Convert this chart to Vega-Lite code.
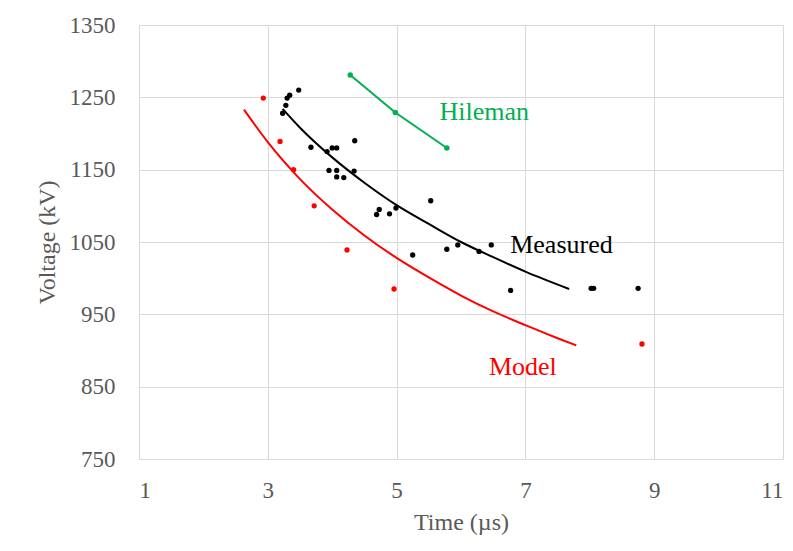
{
  "$schema": "https://vega.github.io/schema/vega-lite/v6.json",
  "width": 644,
  "height": 434,
  "autosize": {"type": "none"},
  "padding": {"left": 139, "top": 25, "right": 10, "bottom": 92},
  "background": "white",
  "config": {
    "view": {"stroke": null},
    "font": "Liberation Serif",
    "axis": {
      "labelFont": "Liberation Serif",
      "titleFont": "Liberation Serif",
      "labelColor": "#595959",
      "titleColor": "#595959",
      "labelFontSize": 23,
      "titleFontSize": 24,
      "titleFontWeight": "normal",
      "gridColor": "#d9d9d9",
      "domainColor": "#d9d9d9",
      "ticks": false
    }
  },
  "datasets": {
    "pts": [
      {"series": "Measured", "t": 3.23, "v": 1228},
      {"series": "Measured", "t": 3.28, "v": 1239},
      {"series": "Measured", "t": 3.30, "v": 1249},
      {"series": "Measured", "t": 3.34, "v": 1253},
      {"series": "Measured", "t": 3.48, "v": 1260},
      {"series": "Measured", "t": 3.67, "v": 1181},
      {"series": "Measured", "t": 3.92, "v": 1175},
      {"series": "Measured", "t": 4.00, "v": 1180},
      {"series": "Measured", "t": 4.07, "v": 1180},
      {"series": "Measured", "t": 4.35, "v": 1190},
      {"series": "Measured", "t": 3.95, "v": 1149},
      {"series": "Measured", "t": 4.07, "v": 1149},
      {"series": "Measured", "t": 4.07, "v": 1140},
      {"series": "Measured", "t": 4.18, "v": 1139},
      {"series": "Measured", "t": 4.34, "v": 1148},
      {"series": "Measured", "t": 4.69, "v": 1088},
      {"series": "Measured", "t": 4.73, "v": 1095},
      {"series": "Measured", "t": 4.89, "v": 1089},
      {"series": "Measured", "t": 4.99, "v": 1097},
      {"series": "Measured", "t": 5.53, "v": 1107},
      {"series": "Measured", "t": 5.25, "v": 1032},
      {"series": "Measured", "t": 5.78, "v": 1040},
      {"series": "Measured", "t": 5.95, "v": 1046},
      {"series": "Measured", "t": 6.28, "v": 1037},
      {"series": "Measured", "t": 6.47, "v": 1046},
      {"series": "Measured", "t": 6.77, "v": 983},
      {"series": "Measured", "t": 8.02, "v": 986},
      {"series": "Measured", "t": 8.06, "v": 986},
      {"series": "Measured", "t": 8.75, "v": 986},
      {"series": "Model", "t": 2.93, "v": 1249},
      {"series": "Model", "t": 3.19, "v": 1189},
      {"series": "Model", "t": 3.40, "v": 1150},
      {"series": "Model", "t": 3.72, "v": 1100},
      {"series": "Model", "t": 4.23, "v": 1039},
      {"series": "Model", "t": 4.96, "v": 985},
      {"series": "Model", "t": 8.81, "v": 909}
    ],
    "curves": [
      {"series": "Measured", "t": 3.23, "v": 1234},
      {"series": "Measured", "t": 3.5, "v": 1208},
      {"series": "Measured", "t": 4.0, "v": 1167},
      {"series": "Measured", "t": 4.5, "v": 1132},
      {"series": "Measured", "t": 5.0, "v": 1101},
      {"series": "Measured", "t": 5.5, "v": 1075},
      {"series": "Measured", "t": 6.0, "v": 1050},
      {"series": "Measured", "t": 6.5, "v": 1029},
      {"series": "Measured", "t": 7.0, "v": 1009},
      {"series": "Measured", "t": 7.68, "v": 985},
      {"series": "Model", "t": 2.63, "v": 1233},
      {"series": "Model", "t": 3.0, "v": 1188},
      {"series": "Model", "t": 3.5, "v": 1137},
      {"series": "Model", "t": 4.0, "v": 1095},
      {"series": "Model", "t": 4.5, "v": 1059},
      {"series": "Model", "t": 5.0, "v": 1028},
      {"series": "Model", "t": 5.5, "v": 1001},
      {"series": "Model", "t": 6.0, "v": 976},
      {"series": "Model", "t": 6.5, "v": 954},
      {"series": "Model", "t": 7.0, "v": 935},
      {"series": "Model", "t": 7.5, "v": 917},
      {"series": "Model", "t": 7.79, "v": 907}
    ],
    "hileman": [
      {"series": "Hileman", "t": 4.28, "v": 1281},
      {"series": "Hileman", "t": 4.98, "v": 1229},
      {"series": "Hileman", "t": 5.78, "v": 1180}
    ],
    "labels": [
      {"series": "Hileman", "t": 6.36, "v": 1230, "label": "Hileman"},
      {"series": "Measured", "t": 7.56, "v": 1046, "label": "Measured"},
      {"series": "Model", "t": 6.96, "v": 877, "label": "Model"}
    ]
  },
  "encoding": {
    "x": {
      "field": "t", "type": "quantitative",
      "scale": {"domain": [1, 11], "nice": false},
      "axis": {"values": [1, 3, 5, 7, 9, 11], "format": "d", "title": "Time (µs)", "labelPadding": 20, "titlePadding": 8}
    },
    "y": {
      "field": "v", "type": "quantitative",
      "scale": {"domain": [750, 1350], "nice": false, "zero": false},
      "axis": {"values": [750, 850, 950, 1050, 1150, 1250, 1350], "format": "d", "title": "Voltage (kV)", "labelPadding": 24, "titlePadding": 10}
    },
    "color": {
      "field": "series", "type": "nominal",
      "scale": {"domain": ["Measured", "Model", "Hileman"], "range": ["#000000", "#ff0000", "#00b050"]},
      "legend": null
    }
  },
  "layer": [
    {
      "data": {"name": "curves"},
      "mark": {"type": "line", "interpolate": "monotone", "strokeWidth": 2},
      "encoding": {"detail": {"field": "series"}}
    },
    {
      "data": {"name": "hileman"},
      "mark": {"type": "line", "strokeWidth": 2, "point": {"filled": true, "size": 30}},
      "encoding": {}
    },
    {
      "data": {"name": "pts"},
      "mark": {"type": "circle", "size": 28, "opacity": 1},
      "encoding": {}
    },
    {
      "data": {"name": "labels"},
      "mark": {"type": "text", "font": "Liberation Serif", "fontSize": 26, "align": "center", "baseline": "middle"},
      "encoding": {"text": {"field": "label"}}
    }
  ]
}
